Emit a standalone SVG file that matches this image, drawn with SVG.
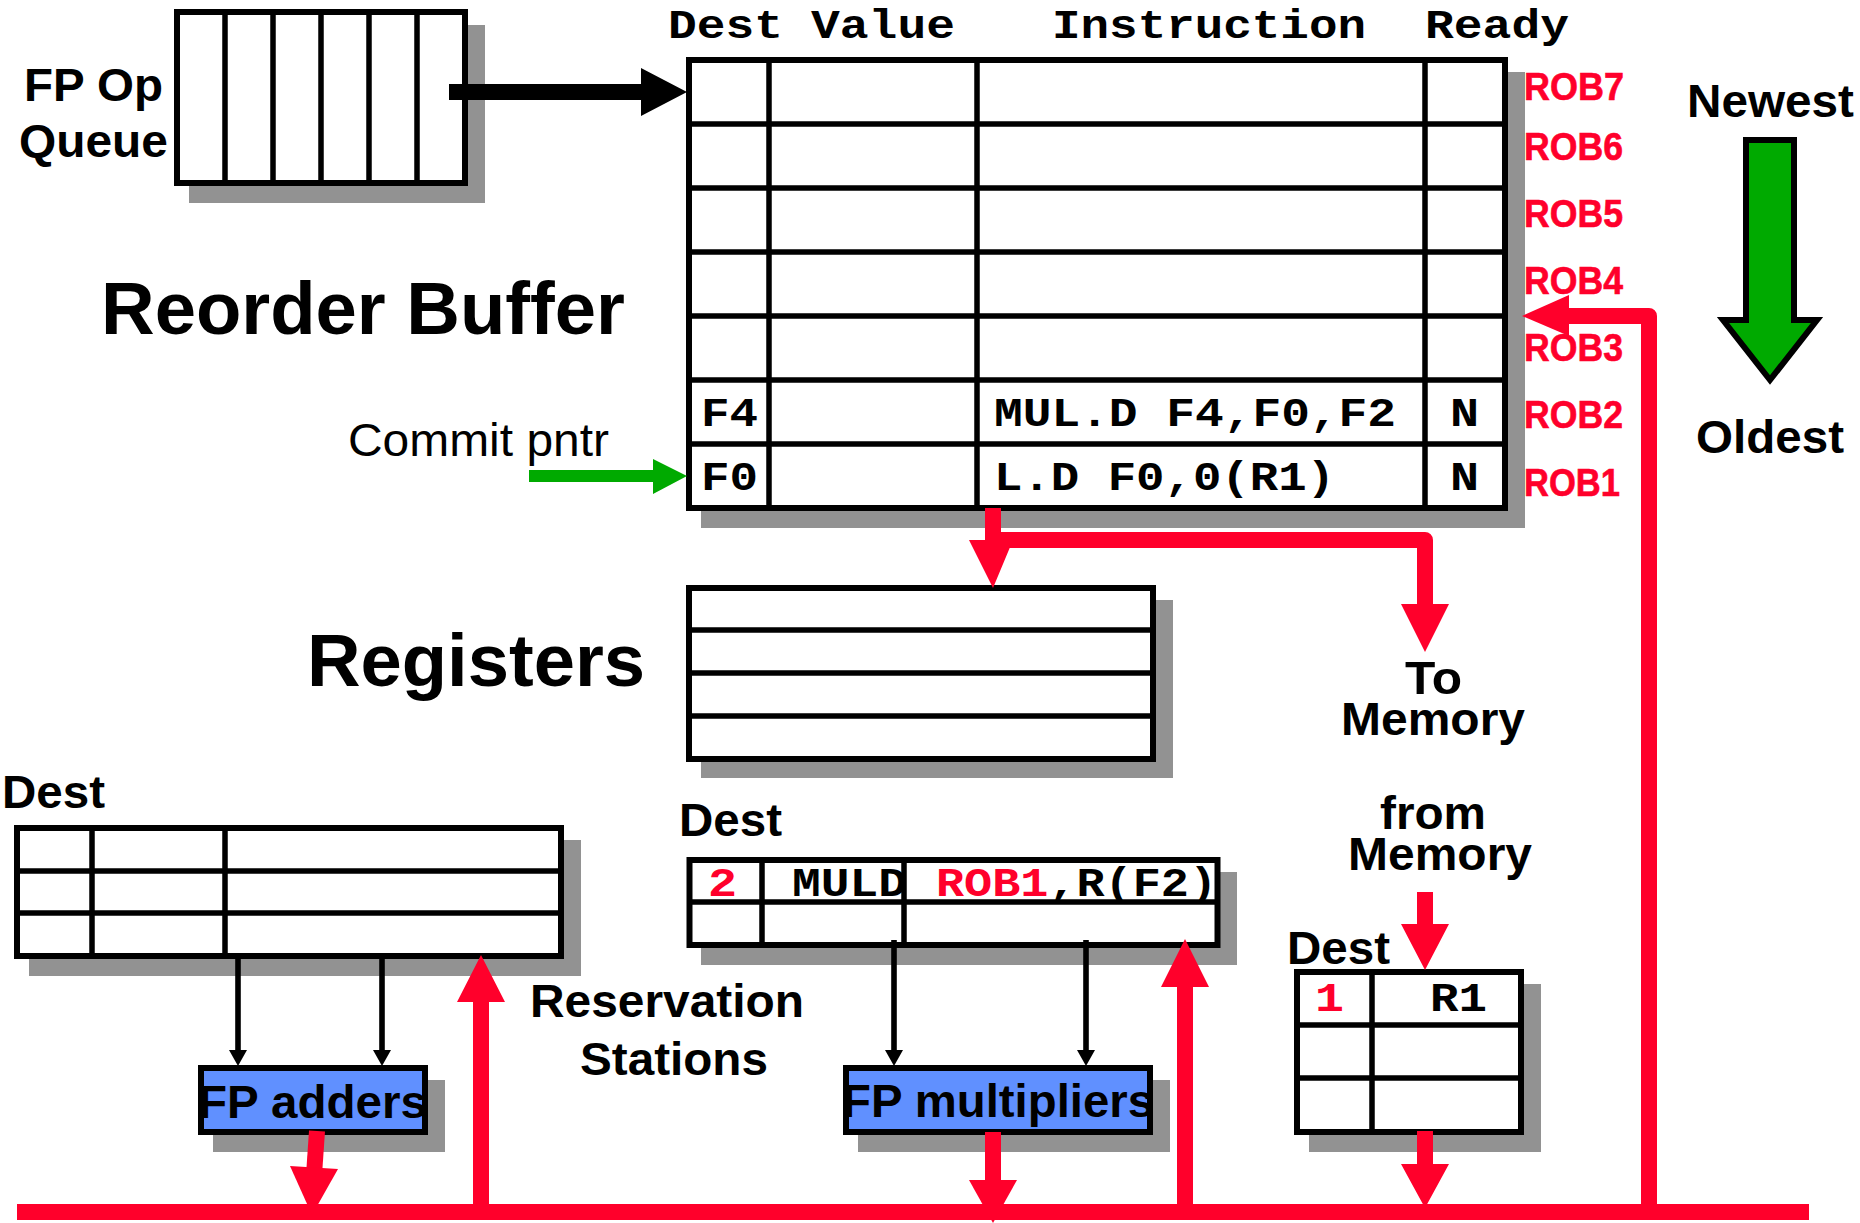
<svg xmlns="http://www.w3.org/2000/svg" width="1860" height="1223" viewBox="0 0 1860 1223">
<style>
.bg{fill:#fff}
.sh{fill:#929292}
.box{fill:#fff;stroke:#000;stroke-width:6}
.blue{fill:#6090ff;stroke:#000;stroke-width:6}
.ln{stroke:#000;stroke-width:5.5;fill:none}
.s{font-family:"Liberation Sans",Arial,sans-serif;font-weight:700;font-size:47px;fill:#000}
.big{font-size:75px}
.reg{font-weight:400}
.m{font-family:"Liberation Mono","Courier New",monospace;font-weight:700;font-size:40px;fill:#000}
.r{fill:#ff002b}
.rob{font-family:"Liberation Sans",Arial,sans-serif;font-weight:700;font-size:38px;fill:#ff002b;stroke:#ff002b;stroke-width:.6}
.rl{fill:none;stroke:#ff002b;stroke-width:16;stroke-linejoin:round}
.ta{fill:#000}
.tl{stroke:#000;stroke-width:5.6;fill:none}
</style>
<rect class="bg" width="1860" height="1223"/>

<g id="fp-op-queue">
<rect class="sh" x="189" y="25" width="296" height="178"/>
<rect class="box" x="177" y="12" width="288" height="171"/>
<path class="ln" d="M225 10V185M273 10V185M321 10V185M369 10V185M417 10V185"/>
<text class="s" x="24" y="101" textLength="139" lengthAdjust="spacingAndGlyphs">FP Op</text>
<text class="s" x="19" y="157" textLength="149" lengthAdjust="spacingAndGlyphs">Queue</text>
</g>

<g id="reorder-buffer">
<rect class="sh" x="701" y="72" width="824" height="456"/>
<rect class="box" x="689" y="60" width="816" height="448"/>
<path class="ln" d="M687 124H1507M687 188H1507M687 252H1507M687 316H1507M687 380H1507M687 444H1507M769 58V510M977 58V510M1425 58V510"/>
<text class="s big" x="101" y="334" textLength="524" lengthAdjust="spacingAndGlyphs">Reorder Buffer</text>
<text class="m" x="668" y="38" textLength="115" lengthAdjust="spacingAndGlyphs">Dest</text>
<text class="m" x="811" y="38" textLength="144" lengthAdjust="spacingAndGlyphs">Value</text>
<text class="m" x="1052" y="38" textLength="314" lengthAdjust="spacingAndGlyphs">Instruction</text>
<text class="m" x="1425" y="38" textLength="144" lengthAdjust="spacingAndGlyphs">Ready</text>
<text class="m" x="701" y="426" textLength="57" lengthAdjust="spacingAndGlyphs">F4</text>
<text class="m" x="701" y="490" textLength="57" lengthAdjust="spacingAndGlyphs">F0</text>
<text class="m" x="994" y="426" textLength="402" lengthAdjust="spacingAndGlyphs">MUL.D F4,F0,F2</text>
<text class="m" x="994" y="490" textLength="341" lengthAdjust="spacingAndGlyphs">L.D F0,0(R1)</text>
<text class="m" x="1450" y="426" textLength="29" lengthAdjust="spacingAndGlyphs">N</text>
<text class="m" x="1450" y="490" textLength="29" lengthAdjust="spacingAndGlyphs">N</text>
<text class="rob" x="1524" y="100" textLength="100" lengthAdjust="spacingAndGlyphs">ROB7</text>
<text class="rob" x="1524" y="160" textLength="99" lengthAdjust="spacingAndGlyphs">ROB6</text>
<text class="rob" x="1524" y="227" textLength="99" lengthAdjust="spacingAndGlyphs">ROB5</text>
<text class="rob" x="1524" y="294" textLength="99" lengthAdjust="spacingAndGlyphs">ROB4</text>
<text class="rob" x="1524" y="361" textLength="99" lengthAdjust="spacingAndGlyphs">ROB3</text>
<text class="rob" x="1524" y="428" textLength="99" lengthAdjust="spacingAndGlyphs">ROB2</text>
<text class="rob" x="1524" y="496" textLength="96" lengthAdjust="spacingAndGlyphs">ROB1</text>
</g>

<g id="commit-pointer">
<text class="s reg" x="348" y="456" textLength="261" lengthAdjust="spacingAndGlyphs">Commit pntr</text>
</g>

<g id="age-indicator">
<text class="s" x="1687" y="117" textLength="167" lengthAdjust="spacingAndGlyphs">Newest</text>
<path d="M1746 140H1794V320H1817L1770 380L1723 320H1746Z" fill="#00aa00" stroke="#000" stroke-width="6"/>
<text class="s" x="1696" y="453" textLength="148" lengthAdjust="spacingAndGlyphs">Oldest</text>
</g>

<g id="registers">
<rect class="sh" x="701" y="600" width="472" height="178"/>
<rect class="box" x="689" y="588" width="464" height="171"/>
<path class="ln" d="M687 630H1155M687 673H1155M687 716H1155"/>
<text class="s big" x="307" y="686" textLength="338" lengthAdjust="spacingAndGlyphs">Registers</text>
</g>

<g id="memory-labels">
<text class="s" x="1405" y="694" textLength="57" lengthAdjust="spacingAndGlyphs">To</text>
<text class="s" x="1341" y="735" textLength="184" lengthAdjust="spacingAndGlyphs">Memory</text>
<text class="s" x="1380" y="829" textLength="106" lengthAdjust="spacingAndGlyphs">from</text>
<text class="s" x="1348" y="870" textLength="184" lengthAdjust="spacingAndGlyphs">Memory</text>
</g>

<g id="adder-stations">
<rect class="sh" x="29" y="840" width="552" height="136"/>
<rect class="box" x="17" y="828" width="544" height="128"/>
<path class="ln" d="M15 871H563M15 913H563M92 826V958M225 826V958"/>
<text class="s" x="2" y="808" textLength="103" lengthAdjust="spacingAndGlyphs">Dest</text>
</g>

<g id="multiplier-stations">
<rect class="sh" x="701" y="872" width="536" height="93"/>
<rect class="box" x="689.5" y="860" width="528" height="85"/>
<text class="m r" x="708" y="896" textLength="29" lengthAdjust="spacingAndGlyphs">2</text>
<text class="m" x="792" y="896" textLength="115" lengthAdjust="spacingAndGlyphs">MULD</text>
<text class="m" x="936" y="896" textLength="281" lengthAdjust="spacingAndGlyphs"><tspan class="r">ROB1</tspan>,R(F2)</text>
<path class="ln" d="M687 902H1219M762 858V947M904 858V947"/>
<text class="s" x="679" y="836" textLength="103" lengthAdjust="spacingAndGlyphs">Dest</text>
</g>

<g id="reservation-label">
<text class="s" x="530" y="1017" textLength="274" lengthAdjust="spacingAndGlyphs">Reservation</text>
<text class="s" x="580" y="1075" textLength="188" lengthAdjust="spacingAndGlyphs">Stations</text>
</g>

<g id="memory-buffer">
<rect class="sh" x="1309" y="984" width="232" height="168"/>
<rect class="box" x="1297" y="972" width="224" height="160"/>
<path class="ln" d="M1295 1025H1523M1295 1078H1523M1372 970V1134"/>
<text class="m r" x="1315" y="1011" textLength="29" lengthAdjust="spacingAndGlyphs">1</text>
<text class="m" x="1430" y="1011" textLength="57" lengthAdjust="spacingAndGlyphs">R1</text>
<text class="s" x="1287" y="964" textLength="103" lengthAdjust="spacingAndGlyphs">Dest</text>
</g>

<g id="fp-adders">
<rect class="sh" x="213" y="1080" width="232" height="72"/>
<rect class="blue" x="201" y="1068" width="224" height="64"/>
<text class="s" x="198" y="1118" textLength="229" lengthAdjust="spacingAndGlyphs">FP adders</text>
</g>

<g id="fp-multipliers">
<rect class="sh" x="858" y="1080" width="312" height="72"/>
<rect class="blue" x="846" y="1068" width="304" height="64"/>
<text class="s" x="842" y="1117" textLength="312" lengthAdjust="spacingAndGlyphs">FP multipliers</text>
</g>

<g id="connectors">
<path d="M449 84H641V68L687 92L641 116V100H449Z" class="ta"/>
<path d="M529 470H653V459L687 476L653 494V482H529Z" fill="#00aa00"/>
<path class="tl" d="M238 956V1052M382 956V1052M894 940V1052M1086 940V1052"/>
<path class="ta" d="M229 1050H247L238 1066ZM373 1050H391L382 1066ZM885 1050H903L894 1066ZM1077 1050H1095L1086 1066Z"/>

<path class="rl" d="M993 508V560M993 540H1425V610"/>
<path class="r" d="M969 540H1013L993 588ZM1401 604H1449L1425 652Z"/>
<path class="rl" d="M1425 892V930M1425 1131V1170"/>
<path class="r" d="M1401 924H1449L1425 970ZM1401 1164H1449L1425 1208Z"/>

<path class="rl" d="M17 1212H1809"/>
<path class="rl" d="M1649 1212V316H1565"/>
<path class="r" d="M1569 295V336L1522 316Z"/>
<path class="rl" d="M481 1212V995M1185 1212V980"/>
<path class="r" d="M457 1002H505L481 955ZM1161 987H1209L1185 939Z"/>
<path class="rl" d="M317 1131L314 1175"/>
<path class="r" d="M290 1166L338 1169L312 1215Z"/>
<path class="rl" d="M993 1132V1190"/>
<path class="r" d="M969 1180H1017L993 1223Z"/>
</g>
</svg>
